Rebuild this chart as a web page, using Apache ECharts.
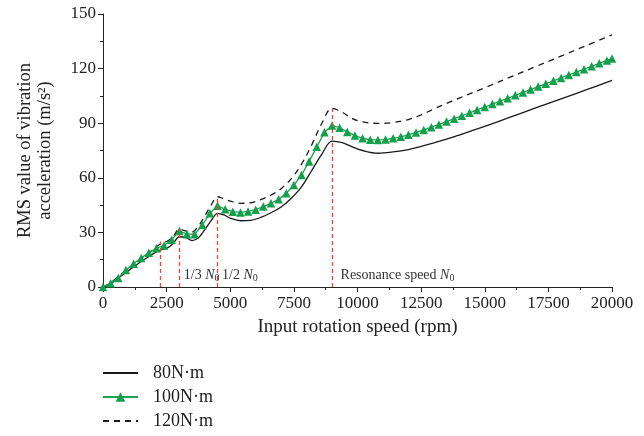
<!DOCTYPE html>
<html>
<head>
<meta charset="utf-8">
<script src="https://cdn.jsdelivr.net/npm/echarts@6/dist/echarts.min.js"></script>
<style>html,body{margin:0;padding:0;background:#fff}#c{width:644px;height:436px}</style>
</head>
<body>
<div id="c"></div>
<script>
// ---- data ----
var speeds100 = [0,300,600,900,1200,1500,1800,2100,2400,2700,3000,3300,3600,3900,4200,4500,4800,5100,5400,5700,6000,6300,6600,6900,7200,7500,7800,8100,8400,8700,9000,9300,9600,9900,10200,10500,10800,11100,11400,11700,12000,12300,12600,12900,13200,13500,13800,14100,14400,14700,15000,15300,15600,15900,16200,16500,16800,17100,17400,17700,18000,18300,18600,18900,19200,19500,19800,20000];
var rms100 = [0,2,5,9.3,12.8,16,18.8,21.3,22.8,26,30.8,29,29,34,40.5,44.7,42.7,41.4,41,41.5,42.5,44.2,46,48.2,51.5,56,61.5,69,77,85,88.8,87.5,85.2,83.2,81.7,80.9,80.8,81,81.7,82.5,83.6,84.9,86.3,87.8,89.3,90.9,92.5,94.1,95.7,97.3,98.9,100.5,102.1,103.7,105.3,106.9,108.5,110.1,111.7,113.3,114.9,116.5,118.1,119.7,121.3,122.9,124.5,125.6];

var speeds80 = [0,250,500,750,1000,1250,1500,1750,2000,2250,2500,2750,3000,3250,3500,3750,4000,4250,4500,4750,5000,5400,5800,6200,6600,7000,7400,7800,8200,8600,9000,9400,9800,10200,10800,11400,12000,12500,13000,13500,14000,15000,16000,17000,18000,19000,20000];
var rms80 = [0,1.3,3.8,6.5,9,11.5,14,16.3,18.5,20.3,21.2,23.8,27.6,27.2,25.5,27,31.5,36.5,40.5,39.6,37.8,36.4,36.6,38.2,40.8,44,48.8,55,64,73,80.2,79.3,77,75,73.5,74.2,75.5,77.3,79.2,81.2,83.5,88.3,93.3,98.4,103.4,108.4,113.5];

var speeds120 = [0,250,500,750,1000,1250,1500,1750,2000,2250,2500,2750,3000,3250,3500,3750,4000,4250,4500,4750,5000,5400,5800,6200,6600,7000,7400,7800,8200,8600,9000,9400,9800,10200,10800,11400,12000,12500,13000,13500,14000,15000,16000,17000,18000,19000,20000];
var rms120 = [0,1.8,4.5,7.3,10,12.8,15.5,18.2,21,23.6,25,27.5,31.8,30.8,30.2,33.5,39,45,49.6,48.5,47.2,46,46.3,48,50.5,54,59.5,67.5,78,90,98.2,96,92.5,90.7,89.9,90.4,92,94.6,97.8,100.9,103.8,109.5,115.3,121.1,126.9,132.7,138.5];

var markSpeeds = [2250, 3000, 4500, 9000];
var markTops = [25, 32, 50, 98];
var markLabels = ['', '1/3 ', '1/2 ', 'Resonance speed '];

var seriesNames = ['80N\u00b7m', '100N\u00b7m', '120N\u00b7m'];
var xTicks = {min: 0, max: 20000, interval: 2500};
var yTicks = {min: 0, max: 150, interval: 30};

function pairs(xs, ys) { return xs.map(function (x, i) { return [x, ys[i]]; }); }

var FONT = '"Liberation Serif", "DejaVu Serif", serif';
var RED = '#f0462e';
var INK = '#222';

var markLineData = markSpeeds.map(function (s, i) {
  return [{coord: [s, 0]}, {coord: [s, markTops[i]]}];
});
var markPointData = [];
markSpeeds.forEach(function (s, i) {
  if (!markLabels[i]) return;
  markPointData.push({
    coord: [s, 6.6],
    label: {
      formatter: '{t|' + markLabels[i] + '}{n|N}{s|0}',
      offset: [i === 3 ? 6 : 2, 0]
    }
  });
});

var chart = echarts.init(document.getElementById('c'), null, {renderer: 'canvas'});
chart.setOption({
  animation: false,
  textStyle: {fontFamily: FONT},
  grid: {left: 103, right: 32, top: 14, bottom: 149, containLabel: false},
  legend: {
    data: [
      {name: seriesNames[0], itemStyle: {opacity: 0}},
      {name: seriesNames[1]},
      {name: seriesNames[2], itemStyle: {opacity: 0}}
    ],
    orient: 'vertical', left: 102, top: 364, padding: 0,
    itemWidth: 35, itemHeight: 12, itemGap: 6,
    textStyle: {fontFamily: FONT, fontSize: 18, color: INK, lineHeight: 18, padding: [0, 0, 0, 10]}
  },
  xAxis: {
    type: 'value', min: xTicks.min, max: xTicks.max, interval: xTicks.interval,
    name: 'Input rotation speed (rpm)', nameLocation: 'middle', nameGap: 31,
    nameTextStyle: {fontFamily: FONT, fontSize: 19, color: INK},
    axisLine: {show: true, lineStyle: {color: INK, width: 1}},
    axisTick: {show: true, length: 5, lineStyle: {color: INK}},
    minorTick: {show: true, splitNumber: 2, length: 3, lineStyle: {color: INK}},
    splitLine: {show: false},
    axisLabel: {fontFamily: FONT, fontSize: 17, color: INK, margin: 8,
      formatter: function (v) { return String(v); }}
  },
  yAxis: {
    type: 'value', min: yTicks.min, max: yTicks.max, interval: yTicks.interval,
    name: 'RMS value of vibration\nacceleration (m/s\u00b2)', nameLocation: 'middle', nameGap: 48,
    nameTextStyle: {fontFamily: FONT, fontSize: 18.5, color: INK, lineHeight: 20},
    axisLine: {show: true, lineStyle: {color: INK, width: 1}},
    axisTick: {show: true, length: 5, lineStyle: {color: INK}},
    minorTick: {show: true, splitNumber: 2, length: 3, lineStyle: {color: INK}},
    splitLine: {show: false},
    axisLabel: {fontFamily: FONT, fontSize: 17, color: INK, margin: 7}
  },
  series: [
    {
      name: seriesNames[0], type: 'line', data: pairs(speeds80, rms80),
      smooth: 0.35, symbol: 'none',
      lineStyle: {color: '#1a1a1a', width: 1.3},
      itemStyle: {color: '#1a1a1a'},
      markLine: {
        silent: true, symbol: 'none', label: {show: false},
        lineStyle: {color: RED, type: [4, 3], width: 1.3},
        data: markLineData
      },
      markPoint: {
        silent: true, symbol: 'circle', symbolSize: 1,
        itemStyle: {color: 'rgba(0,0,0,0)'},
        label: {
          show: true, position: 'right', distance: 2,
          rich: {
            t: {fontFamily: FONT, fontSize: 14, color: '#333'},
            n: {fontFamily: FONT, fontSize: 14, fontStyle: 'italic', color: '#333'},
            s: {fontFamily: FONT, fontSize: 10, color: '#333', verticalAlign: 'bottom', padding: [7, 0, 0, 0]}
          }
        },
        data: markPointData
      },
      z: 3
    },
    {
      name: seriesNames[1], type: 'line', data: pairs(speeds100, rms100),
      symbol: 'triangle', symbolSize: 8.5, showAllSymbol: true,
      lineStyle: {color: '#1ea04e', width: 1.3},
      itemStyle: {color: '#12a04a'},
      z: 4
    },
    {
      name: seriesNames[2], type: 'line', data: pairs(speeds120, rms120),
      smooth: 0.35, symbol: 'none',
      lineStyle: {color: '#1a1a1a', width: 1.3, type: [6, 5]},
      itemStyle: {color: '#1a1a1a'},
      z: 2
    }
  ]
});
</script>
</body>
</html>
